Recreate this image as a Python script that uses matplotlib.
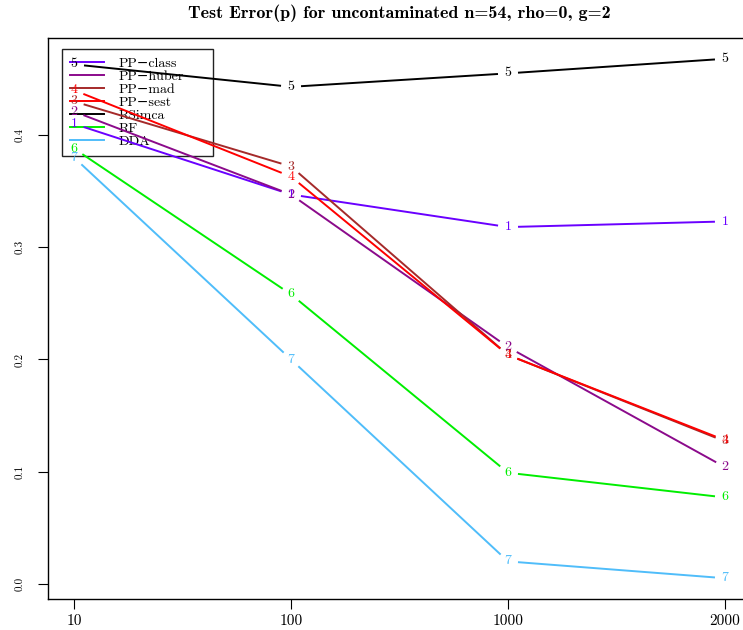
import numpy as np
import matplotlib
matplotlib.use("Agg")
import matplotlib.pyplot as plt
from matplotlib.lines import Line2D

plt.rcParams['font.family'] = ['cmr10', 'DejaVu Serif']
plt.rcParams['axes.formatter.use_mathtext'] = True

# data
n_labels = ["10", "100", "1000", "2000"]
pp_class = [0.410, 0.347, 0.318, 0.323]
pp_huber = [0.421, 0.347, 0.211, 0.104]
pp_mad = [0.430, 0.372, 0.204, 0.127]
pp_sest = [0.440, 0.363, 0.204, 0.128]
rsimca = [0.463, 0.443, 0.455, 0.468]
rf = [0.388, 0.258, 0.099, 0.077]
dda = [0.380, 0.200, 0.020, 0.005]

methods = ["PP\u2212class", "PP\u2212huber", "PP\u2212mad", "PP\u2212sest",
           "RSimca", "RF", "DDA"]
colors = ["#6a00ff", "#8b0a8b", "#a52a2a", "#ff0000",
          "#000000", "#00ee00", "#4fbdfa"]
series = [pp_class, pp_huber, pp_mad, pp_sest, rsimca, rf, dda]

fig = plt.figure(figsize=(7.43, 6.30), dpi=100)
ax = fig.add_axes([48/743, 31/630, 703/743, 561/630])

x = np.arange(1, len(n_labels) + 1)
allv = np.concatenate(series)
r = allv.max() - allv.min()
ax.set_xlim(1 - 0.04*3, 4 + 0.04*3)
ax.set_ylim(allv.min() - 0.04*r, allv.max() + 0.04*r)

# R type="b": segments with a gap around each point label
gap = 11  # pixels
fig.canvas.draw()
for i, (vals, col) in enumerate(zip(series, colors)):
    pts = ax.transData.transform(np.column_stack([x, vals]))
    for a, b in zip(pts[:-1], pts[1:]):
        d = b - a
        u = d / np.hypot(*d)
        p0 = a + u*gap
        p1 = b - u*gap
        ax.add_line(Line2D([p0[0], p1[0]], [p0[1], p1[1]], transform=None,
                           color=col, lw=1.4, zorder=3))
    for xi, yi in zip(x, vals):
        ax.text(xi, yi, str(i + 1), color=col, fontsize=10,
                ha="center", va="center", zorder=4)

ax.set_xticks(x)
ax.set_xticklabels(n_labels, fontsize=11)
ax.set_yticks([0.0, 0.1, 0.2, 0.3, 0.4])
ax.set_yticklabels(["0.0", "0.1", "0.2", "0.3", "0.4"], fontsize=8,
                   rotation=90, va="center")
ax.tick_params(direction="out", length=7, width=0.8)
ax.tick_params(axis="x", pad=4)
ax.tick_params(axis="y", pad=10)
for s in ax.spines.values():
    s.set_linewidth(1.0)

# legend box like R's legend(), lines may run over it
handles = [Line2D([], [], color=c, lw=1.4) for c in colors]
leg = ax.legend(handles, methods, loc="upper left",
                bbox_to_anchor=(14/703, 1 - 11/561, 151/703, 0),
                mode="expand", fontsize=10,
                frameon=True, fancybox=False, facecolor="none",
                edgecolor="#222222", handlelength=2.4, handletextpad=1.1,
                labelspacing=0.02, borderpad=0.6, borderaxespad=0)
leg.get_frame().set_linewidth(1.0)
leg.get_frame().set_alpha(None)
leg.set_zorder(1)

fig.text(0.537, 0.979, "Test Error(p) for uncontaminated n=54, rho=0, g=2",
         ha="center", va="center", fontsize=13,
         family=['cmb10', 'DejaVu Serif'], fontweight="bold")

fig.savefig("out.png", dpi=100)
